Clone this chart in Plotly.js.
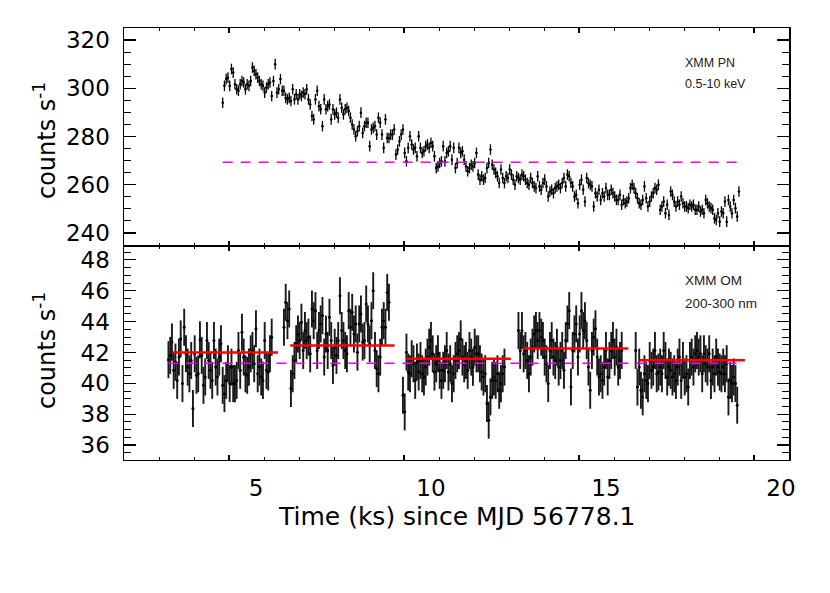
<!DOCTYPE html>
<html>
<head>
<meta charset="utf-8">
<script src="https://cdn.plot.ly/plotly-3.0.1.min.js"></script>
<style>html,body{margin:0;padding:0;background:#fff;}#chart{width:830px;height:593px;}</style>
</head>
<body>
<div id="chart"></div>
<script>
// ---------------- XMM PN (0.5-10 keV) light curve ----------------
const pnTime = [
4.05,4.1,4.15,4.2,4.25,4.3,4.35,4.4,4.45,4.5,4.55,4.6,4.65,4.7,4.75,4.8,4.85,4.9,4.95,5,
5.05,5.1,5.15,5.2,5.25,5.3,5.35,5.4,5.45,5.5,5.55,5.6,5.65,5.7,5.75,5.8,5.85,5.9,5.95,6,
6.05,6.1,6.15,6.2,6.25,6.3,6.35,6.4,6.45,6.5,6.55,6.6,6.65,6.7,6.75,6.8,6.85,6.9,6.95,7,
7.05,7.1,7.15,7.2,7.25,7.3,7.35,7.4,7.45,7.5,7.55,7.6,7.65,7.7,7.75,7.8,7.85,7.9,7.95,8,
8.05,8.1,8.15,8.2,8.25,8.3,8.35,8.4,8.45,8.5,8.55,8.6,8.65,8.7,8.75,8.8,8.85,8.9,8.95,9,
9.05,9.1,9.15,9.2,9.25,9.3,9.35,9.4,9.45,9.5,9.55,9.6,9.65,9.7,9.75,9.8,9.85,9.9,9.95,10,
10.05,10.1,10.15,10.2,10.25,10.3,10.35,10.4,10.45,10.5,10.55,10.6,10.65,10.7,10.75,10.8,10.85,10.9,10.95,11,
11.05,11.1,11.15,11.2,11.25,11.3,11.35,11.4,11.45,11.5,11.55,11.6,11.65,11.7,11.75,11.8,11.85,11.9,11.95,12,
12.05,12.1,12.15,12.2,12.25,12.3,12.35,12.4,12.45,12.5,12.55,12.6,12.65,12.7,12.75,12.8,12.85,12.9,12.95,13,
13.05,13.1,13.15,13.2,13.25,13.3,13.35,13.4,13.45,13.5,13.55,13.6,13.65,13.7,13.75,13.8,13.85,13.9,13.95,14,
14.05,14.1,14.15,14.2,14.25,14.3,14.35,14.4,14.45,14.5,14.55,14.6,14.65,14.7,14.75,14.8,14.85,14.9,14.95,15,
15.05,15.1,15.15,15.2,15.25,15.3,15.35,15.4,15.45,15.5,15.55,15.6,15.65,15.7,15.75,15.8,15.85,15.9,15.95,16,
16.05,16.1,16.15,16.2,16.25,16.3,16.35,16.4,16.45,16.5,16.55,16.6,16.65,16.7,16.75,16.8,16.85,16.9,16.95,17,
17.05,17.1,17.15,17.2,17.25,17.3,17.35,17.4,17.45,17.5,17.55,17.6,17.65,17.7,17.75,17.8,17.85,17.9,17.95,18,
18.05,18.1,18.15,18.2,18.25,18.3,18.35,18.4,18.45,18.5,18.55,18.6,18.65,18.7,18.75,18.8
];
const pnRate = [
294.0,301.0,303.8,304.4,301.0,308.0,306.5,301.7,299.6,299.0,301.7,303.0,
302.4,299.6,301.7,301.0,303.0,308.6,307.2,305.8,304.4,303.0,301.7,301.0,298.2,300.3,301.7,302.4,296.8,303.0,310.0,298.2,299.6,303.8,299.0,
299.0,296.0,295.4,296.0,294.7,299.6,295.4,297.5,295.4,297.5,296.8,298.2,297.5,299.6,295.4,293.3,288.5,287.1,295.4,299.0,292.6,291.3,284.3,
295.4,291.3,292.6,293.3,287.1,291.3,289.2,289.9,287.8,295.4,291.9,289.2,291.3,291.9,290.6,287.8,285.0,282.9,280.1,282.2,284.3,289.9,281.5,
284.3,285.7,285.7,276.0,282.9,283.6,284.3,280.8,287.8,285.7,280.8,275.3,287.1,279.4,279.4,280.8,280.8,282.9,272.5,274.6,278.0,280.8,282.9,
273.2,269.7,275.3,280.1,276.7,274.6,275.3,271.8,280.1,275.3,273.2,273.9,276.0,276.7,275.3,277.4,276.0,271.8,266.9,267.6,269.0,269.7,276.0,
269.7,273.2,273.9,276.0,270.4,275.3,266.9,269.0,275.3,273.2,273.9,270.4,267.6,265.6,266.9,268.3,267.6,269.0,273.2,264.2,262.1,263.5,262.1,
262.8,266.9,269.0,274.6,268.3,266.3,264.9,263.5,260.7,266.3,262.8,260.7,263.5,262.8,266.3,264.2,262.1,260.0,263.5,262.8,262.1,264.2,263.5,
262.1,260.7,260.0,262.8,260.7,259.3,258.6,263.5,259.3,257.9,260.7,262.1,259.3,255.1,257.2,257.9,256.5,258.6,259.3,260.0,258.6,260.7,262.8,
259.3,264.2,263.5,260.7,259.3,255.1,255.8,252.3,260.0,262.1,257.9,253.0,262.8,260.7,260.0,259.3,251.0,256.5,255.1,257.9,253.7,256.5,255.1,
258.6,255.8,255.8,257.9,256.5,255.1,253.7,253.7,255.8,251.7,253.7,252.3,253.0,254.4,258.6,260.0,258.6,256.5,254.4,252.3,251.7,253.7,259.3,
254.4,251.0,253.0,255.1,256.5,258.6,257.9,260.0,249.6,251.0,253.0,248.2,251.7,247.5,257.2,255.8,253.0,251.0,253.0,251.7,255.1,252.3,251.0,
251.0,250.3,251.7,251.0,251.7,249.6,249.6,251.0,248.9,249.6,248.2,253.7,252.3,251.0,250.3,249.6,246.1,245.4,248.2,244.7,248.9,248.2,253.0,
244.7,253.7,251.0,248.2,253.7,250.3,246.8,257.2
];
const pnRateErr = 2.2;      // counts/s, 1-sigma
const pnBinHalf = 0.025;    // ks
const pnMeanLevel = 269.3;
const pnMeanSpan = [4.05, 18.8];

// ---------------- XMM OM (200-300 nm) light curve, 5 exposures ----------------
const omTime1 = [2.5,2.55,2.6,2.65,2.7,2.75,2.8,2.85,2.9,2.95,3,3.05,3.1,3.15,3.2,3.25,3.3,3.35,3.4,3.45,3.5,3.55,3.6,3.65,3.7,3.75,3.8,3.85,3.9,3.95,4,4.05,4.1,4.15,4.2,4.25,4.3,4.35,4.4,4.45,4.5,4.55,4.6,4.65,4.7,4.75,4.8,4.85,4.9,4.95,5,5.05,5.1,5.15,5.2,5.25,5.3,5.35,5.4,5.45];
const omRate1 = [41.53,41.81,42.67,40.84,41.38,40.19,41.70,42.88,39.98,43.63,41.91,41.05,40.62,41.48,38.37,41.91,40.52,40.62,42.82,41.81,39.87,40.41,42.77,41.48,40.84,40.19,42.77,41.05,40.41,41.70,42.56,39.87,39.33,40.19,41.27,39.98,41.05,39.98,39.98,40.19,42.13,40.84,43.31,41.70,40.62,40.52,41.05,41.91,42.13,41.27,43.53,40.62,41.05,40.41,40.19,42.77,40.84,40.73,41.91,42.99];
const omTime2 = [5.8,5.85,5.9,5.95,6,6.05,6.1,6.15,6.2,6.25,6.3,6.35,6.4,6.45,6.5,6.55,6.6,6.65,6.7,6.75,6.8,6.85,6.9,6.95,7,7.05,7.1,7.15,7.2,7.25,7.3,7.35,7.4,7.45,7.5,7.55,7.6,7.65,7.7,7.75,7.8,7.85,7.9,7.95,8,8.05,8.1,8.15,8.2,8.25,8.3,8.35,8.4,8.45,8.5,8.55,8.6,8.65,8.7,8.75,8.8];
const omRate2 = [43.63,45.25,44.06,44.82,39.66,40.62,41.48,42.56,43.20,42.77,43.96,42.13,43.42,42.77,42.99,41.91,44.82,44.06,44.71,42.13,43.42,43.85,44.39,41.70,43.20,42.13,44.28,42.77,41.16,42.34,41.81,42.77,45.68,43.42,42.77,42.13,41.91,44.71,43.63,44.60,43.20,43.85,42.02,43.85,44.49,42.67,42.77,45.14,43.85,42.56,44.06,46.00,42.13,40.95,40.62,41.70,43.63,44.06,43.63,45.89,45.25];
const omTime3 = [9.2,9.25,9.3,9.35,9.4,9.45,9.5,9.55,9.6,9.65,9.7,9.75,9.8,9.85,9.9,9.95,10,10.05,10.1,10.15,10.2,10.25,10.3,10.35,10.4,10.45,10.5,10.55,10.6,10.65,10.7,10.75,10.8,10.85,10.9,10.95,11,11.05,11.1,11.15,11.2,11.25,11.3,11.35,11.4,11.45,11.5,11.55,11.6,11.65,11.7,11.75,11.8,11.85,11.9,11.95,12,12.05,12.1];
const omRate3 = [39.23,38.15,42.02,40.73,40.62,41.59,41.27,40.19,41.38,40.73,41.48,40.62,40.41,41.05,41.70,42.34,42.77,41.91,40.73,41.27,41.91,40.84,40.19,40.84,41.27,42.13,40.73,41.27,39.98,40.62,41.48,41.91,42.13,42.88,41.70,41.27,41.48,40.84,42.13,41.70,41.05,42.34,41.91,41.91,41.27,40.73,40.41,40.62,38.69,37.61,39.12,40.19,40.41,40.19,40.62,39.55,39.98,40.62,41.05];
const omTime4 = [12.5,12.55,12.6,12.65,12.7,12.75,12.8,12.85,12.9,12.95,13,13.05,13.1,13.15,13.2,13.25,13.3,13.35,13.4,13.45,13.5,13.55,13.6,13.65,13.7,13.75,13.8,13.85,13.9,13.95,14,14.05,14.1,14.15,14.2,14.25,14.3,14.35,14.4,14.45,14.5,14.55,14.6,14.65,14.7,14.75,14.8,14.85,14.9,14.95,15,15.05,15.1,15.15,15.2,15.25,15.3,15.35,15.4,15.45];
const omRate4 = [43.42,42.13,43.42,41.91,42.13,41.48,40.62,41.70,42.34,43.20,43.42,42.77,43.42,42.99,42.77,41.70,41.27,39.98,42.13,42.77,41.70,41.48,42.34,41.05,41.48,42.13,40.84,42.77,43.85,44.71,39.76,42.13,43.20,43.85,41.70,43.20,44.71,43.42,44.06,42.77,41.05,39.55,42.13,42.99,43.53,41.70,40.41,40.62,40.19,41.05,42.13,40.41,41.48,42.13,42.77,41.70,42.34,41.05,41.48,42.13];
const omTime5 = [15.85,15.9,15.95,16,16.05,16.1,16.15,16.2,16.25,16.3,16.35,16.4,16.45,16.5,16.55,16.6,16.65,16.7,16.75,16.8,16.85,16.9,16.95,17,17.05,17.1,17.15,17.2,17.25,17.3,17.35,17.4,17.45,17.5,17.55,17.6,17.65,17.7,17.75,17.8,17.85,17.9,17.95,18,18.05,18.1,18.15,18.2,18.25,18.3,18.35,18.4,18.45,18.5,18.55,18.6,18.65,18.7,18.75];
const omRate5 = [42.13,39.76,41.05,39.55,39.12,40.62,40.19,39.98,41.48,40.84,41.05,42.13,40.62,40.73,41.05,40.62,42.13,41.48,40.41,41.05,40.84,40.41,40.62,40.19,41.05,41.70,40.19,41.48,40.41,40.62,39.76,41.48,41.70,41.05,41.91,42.13,41.70,41.91,40.62,41.91,41.27,41.05,41.91,40.19,41.05,40.62,41.70,41.05,40.73,40.62,41.05,40.62,41.27,39.12,40.19,39.98,40.41,39.98,38.58];
const omRateErr = 1.2;
const omBinHalf = 0.025;
// per-exposure mean levels (red) and overall mean (magenta)
const omFitLevel = [42.0, 42.45, 41.6, 42.25, 41.5];
const omFitStart = [2.62, 5.98, 9.30, 12.63, 15.95];
const omFitEnd   = [5.63, 8.96, 12.28, 15.64, 18.97];
const omMeanLevel = 41.3;
const omMeanSpan = [2.5, 18.75];

// axis ticks
const timeTickLabels = [5, 10, 15, 20];

const FONT = 'DejaVu Sans, Liberation Sans, sans-serif';
const traces = [];

// PN panel (top)
traces.push({
  x: pnTime, y: pnRate, xaxis: 'x2', yaxis: 'y2', type: 'scatter', mode: 'markers',
  marker: {color: '#000', size: 2.5},
  error_y: {type: 'constant', value: pnRateErr, width: 0, thickness: 1.3, color: '#000'},
  error_x: {type: 'constant', value: pnBinHalf, width: 0, thickness: 1.2, color: '#000'},
  hoverinfo: 'skip', showlegend: false
});
traces.push({
  x: pnMeanSpan, y: [pnMeanLevel, pnMeanLevel], xaxis: 'x2', yaxis: 'y2', mode: 'lines',
  line: {color: '#ee00ee', width: 1.5, dash: '10px,8px'}, hoverinfo: 'skip', showlegend: false
});

// OM panel (bottom)
const omTimes = [omTime1, omTime2, omTime3, omTime4, omTime5];
const omRates = [omRate1, omRate2, omRate3, omRate4, omRate5];
omTimes.forEach((t, i) => {
  traces.push({
    x: t, y: omRates[i], xaxis: 'x', yaxis: 'y', type: 'scatter', mode: 'markers',
    marker: {color: '#000', size: 3},
    error_y: {type: 'constant', value: omRateErr, width: 0, thickness: 1.9, color: '#1a1a1a'},
    error_x: {type: 'constant', value: omBinHalf, width: 0, thickness: 1, color: '#1a1a1a'},
    hoverinfo: 'skip', showlegend: false
  });
});
traces.push({
  x: omMeanSpan, y: [omMeanLevel, omMeanLevel], xaxis: 'x', yaxis: 'y', mode: 'lines',
  line: {color: '#ee00ee', width: 1.5, dash: '10px,8px'}, hoverinfo: 'skip', showlegend: false
});
omFitLevel.forEach((lv, i) => {
  traces.push({
    x: [omFitStart[i], omFitEnd[i]], y: [lv, lv], xaxis: 'x', yaxis: 'y', mode: 'lines',
    line: {color: '#ff0000', width: 2.5}, hoverinfo: 'skip', showlegend: false
  });
});
// empty traces to attach the tick-mark axes
traces.push({x: [], y: [], xaxis: 'x3', yaxis: 'y', mode: 'markers', showlegend: false, hoverinfo: 'skip'});
traces.push({x: [], y: [], xaxis: 'x4', yaxis: 'y2', mode: 'markers', showlegend: false, hoverinfo: 'skip'});

const split = 0.4954;
const tickAxis = (over, anchor) => ({
  overlaying: over, anchor: anchor, range: [2, 21], tick0: 0, dtick: 5,
  ticks: 'inside', ticklen: 5, tickwidth: 1.2, tickcolor: '#000',
  minor: {ticks: 'inside', dtick: 1, ticklen: 3, tickwidth: 1, tickcolor: '#000'},
  showticklabels: false, showline: true, linewidth: 1.2, linecolor: '#000',
  mirror: 'ticks', showgrid: false, zeroline: false
});

const layout = {
  width: 830, height: 593,
  margin: {l: 124, r: 41, t: 28, b: 133},
  paper_bgcolor: '#fff', plot_bgcolor: '#fff',
  showlegend: false,
  font: {family: FONT, color: '#000'},
  xaxis: {
    domain: [0, 1], anchor: 'y', range: [1.23, 20.23],
    tickmode: 'array', tickvals: timeTickLabels, ticktext: timeTickLabels.map(String),
    ticks: '', showline: false, showgrid: false, zeroline: false,
    tickfont: {family: FONT, size: 23, color: '#000'}, ticklabelstandoff: 12
  },
  xaxis2: {
    matches: 'x', anchor: 'y2', showticklabels: false, ticks: '',
    showline: false, showgrid: false, zeroline: false
  },
  xaxis3: tickAxis('x', 'y'),
  xaxis4: tickAxis('x2', 'y2'),
  yaxis: {
    domain: [0, split], anchor: 'x', range: [35.03, 48.9], tick0: 0, dtick: 2,
    ticks: 'inside', ticklen: 12, tickwidth: 1.2, tickcolor: '#000',
    minor: {ticks: 'inside', dtick: 0.5, ticklen: 7, tickwidth: 1, tickcolor: '#000'},
    showline: true, linewidth: 1.5, linecolor: '#000', mirror: 'ticks',
    showgrid: false, zeroline: false,
    tickfont: {family: FONT, size: 23, color: '#000'}, ticklabelstandoff: 8
  },
  yaxis2: {
    domain: [split, 1], anchor: 'x2', range: [234.6, 325], tick0: 0, dtick: 20,
    ticks: 'inside', ticklen: 12, tickwidth: 1.2, tickcolor: '#000',
    minor: {ticks: 'inside', dtick: 5, ticklen: 7, tickwidth: 1, tickcolor: '#000'},
    showline: true, linewidth: 1.5, linecolor: '#000', mirror: 'ticks',
    showgrid: false, zeroline: false,
    tickfont: {family: FONT, size: 23, color: '#000'}, ticklabelstandoff: 8
  },
  annotations: [
    {text: 'counts s<sup>-1</sup>', xref: 'paper', yref: 'paper', x: -0.1188, y: 0.7407,
     textangle: -90, showarrow: false, xanchor: 'center', yanchor: 'middle',
     font: {family: FONT, size: 24, color: '#000'}},
    {text: 'counts s<sup>-1</sup>', xref: 'paper', yref: 'paper', x: -0.1188, y: 0.2546,
     textangle: -90, showarrow: false, xanchor: 'center', yanchor: 'middle',
     font: {family: FONT, size: 24, color: '#000'}},
    {text: 'Time (ks) since MJD 56778.1', xref: 'paper', yref: 'paper', x: 0.5, y: -0.1319,
     showarrow: false, xanchor: 'center', yanchor: 'middle',
     font: {family: FONT, size: 25, color: '#000'}},
    {text: 'XMM PN', xref: 'paper', yref: 'paper', x: 0.8406, y: 0.919, showarrow: false,
     xanchor: 'left', yanchor: 'middle', font: {family: 'Liberation Sans, sans-serif', size: 12.5, color: '#222'}},
    {text: '0.5-10 keV', xref: 'paper', yref: 'paper', x: 0.8406, y: 0.8704, showarrow: false,
     xanchor: 'left', yanchor: 'middle', font: {family: 'Liberation Sans, sans-serif', size: 12.5, color: '#222'}},
    {text: 'XMM OM', xref: 'paper', yref: 'paper', x: 0.8406, y: 0.4144, showarrow: false,
     xanchor: 'left', yanchor: 'middle', font: {family: 'Liberation Sans, sans-serif', size: 13.5, color: '#222'}},
    {text: '200-300 nm', xref: 'paper', yref: 'paper', x: 0.8406, y: 0.3634, showarrow: false,
     xanchor: 'left', yanchor: 'middle', font: {family: 'Liberation Sans, sans-serif', size: 13.5, color: '#222'}}
  ]
};

Plotly.newPlot('chart', traces, layout, {staticPlot: true, displayModeBar: false});
</script>
</body>
</html>
